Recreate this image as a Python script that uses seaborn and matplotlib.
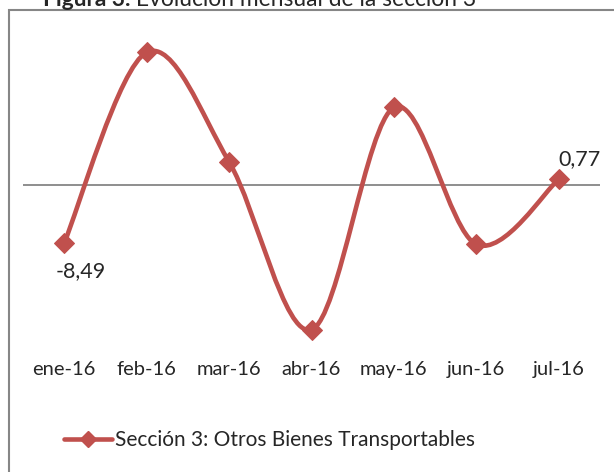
import numpy as np
import pandas as pd
import seaborn as sns
import matplotlib.pyplot as plt
from matplotlib.path import Path
from matplotlib.patches import PathPatch, Rectangle
from matplotlib.lines import Line2D

meses = ['ene-16', 'feb-16', 'mar-16', 'abr-16', 'may-16', 'jun-16', 'jul-16']
variacion = [-8.49, 19.2, 3.3, -21.1, 11.2, -8.7, 0.77]
serie = 'Sección 3: Otros Bienes Transportables'
titulo_neg = 'Figura 3.'
titulo = ' Evolución mensual de la sección 3'

rojo = '#C0504D'
gris = '#868686'

sns.set_style('white')
plt.rcParams['font.family'] = ['Lato', 'DejaVu Sans']

df = pd.DataFrame({'x': np.arange(len(meses)), 'y': variacion})

W, H = 614, 472
fig = plt.figure(figsize=(W / 100, H / 100), dpi=100)
ax = fig.add_axes([23 / W, 1 - 356.5 / H, 577 / W, 344 / H])

# linea suavizada (bezier tipo Excel)
pts = df[['x', 'y']].to_numpy()
ext = np.vstack([pts[0], pts, pts[-1]])
verts = [tuple(pts[0])]
codes = [Path.MOVETO]
for i in range(len(pts) - 1):
    p0, p1, p2, p3 = ext[i], ext[i + 1], ext[i + 2], ext[i + 3]
    c1 = p1 + (p2 - p0) / 6
    c2 = p2 - (p3 - p1) / 6
    verts += [tuple(c1), tuple(c2), tuple(p2)]
    codes += [Path.CURVE4] * 3
ax.add_patch(PathPatch(Path(verts, codes), fill=False, edgecolor=rojo,
                       lw=3.3, capstyle='round', joinstyle='round', zorder=3))

sns.lineplot(data=df, x='x', y='y', ax=ax, marker='D', markersize=10,
             color=rojo, markeredgecolor=rojo, linestyle='none', zorder=4)

ax.axhline(0, color=gris, lw=1.3, zorder=1)
ax.set_xlim(-0.5, len(meses) - 0.5)
ax.set_ylim(-25, 25)
ax.set_xticks(df['x'])
ax.set_xticklabels(meses, fontsize=14.5)
ax.set_yticks([])
ax.tick_params(axis='x', length=0, pad=3)
ax.set_xlabel('')
ax.set_ylabel('')
for s in ax.spines.values():
    s.set_visible(False)

# etiquetas de datos
ax.annotate(f'{variacion[0]:.2f}'.replace('.', ','), (0, variacion[0]),
            xytext=(17, -28), textcoords='offset pixels', ha='center', va='center',
            fontsize=15.5)
ax.annotate(f'{variacion[-1]:.2f}'.replace('.', ','), (len(meses) - 1, variacion[-1]),
            xytext=(21, 20), textcoords='offset pixels', ha='center', va='center',
            fontsize=15.5)

# leyenda
h = Line2D([], [], color=rojo, lw=3.3, marker='D', markersize=8)
fig.legend([h], [serie], loc='center left', bbox_to_anchor=(64 / W, 1 - 440 / H),
           frameon=False, fontsize=15, handlelength=2.3, handletextpad=0.15,
           borderpad=0, borderaxespad=0)

# marco
fig.patches.append(Rectangle((9 / W, -0.5), 2, 0.5 + 1 - 10 / H, transform=fig.transFigure,
                             fill=False, edgecolor=gris, lw=1.5))

# titulo (cortado arriba)
t1 = fig.text(43 / W, 1 - 6 / H, titulo_neg, fontsize=16.4, fontweight='bold',
              ha='left', va='baseline')
fig.canvas.draw()
bb = t1.get_window_extent()
fig.text(bb.x1 / W, 1 - 6 / H, titulo, fontsize=16.4, ha='left', va='baseline')

fig.savefig('out.png', dpi=100)
